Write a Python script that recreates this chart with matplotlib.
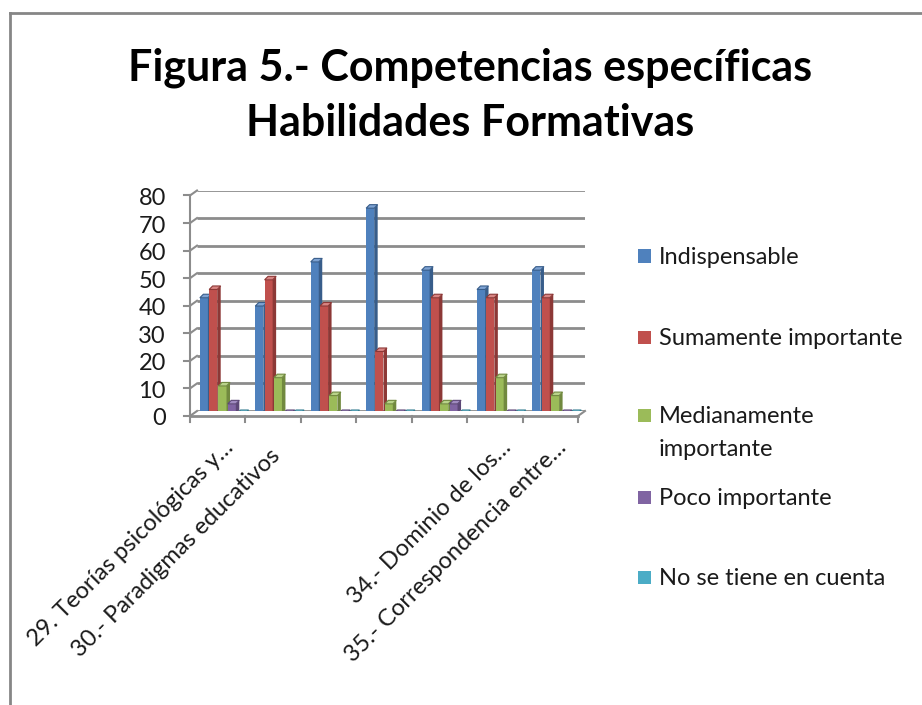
import matplotlib as mpl
mpl.use('Agg')
import numpy as np
import matplotlib.pyplot as plt
from matplotlib.patches import Polygon, Rectangle
from matplotlib.lines import Line2D

mpl.rcParams['font.family'] = ['Lato', 'DejaVu Sans']

# data
categories = ['29. Teorías psicológicas y…', '30.- Paradigmas educativos  ', '', '', '',
              '34.- Dominio de los…', '35.- Correspondencia entre…']
series = ['Indispensable', 'Sumamente importante', 'Medianamente\nimportante',
          'Poco importante', 'No se tiene en cuenta']
indispensable = [42, 39, 55, 74.5, 52, 45, 52]
sumamente = [45, 48.5, 39, 22.5, 42, 42, 42]
medianamente = [10, 13, 6.5, 3.5, 3.5, 13, 6.5]
poco = [3.5, 0, 0, 0, 3.5, 0, 0]
no_cuenta = [0, 0, 0, 0, 0, 0, 0]
values = [indispensable, sumamente, medianamente, poco, no_cuenta]
yticks = [0, 10, 20, 30, 40, 50, 60, 70, 80]

front = ['#4F81BD', '#C0504D', '#9BBB59', '#8064A2', '#4BACC6']
side = ['#385D8A', '#8C3836', '#71893F', '#5C4776', '#357D91']
top = ['#7EA3D3', '#D98583', '#B9D38A', '#A08BC0', '#7CC9DD']
txt = '#1a1a1a'
grid_c = '#8C8C8C'

W, H = 922, 705
fig = plt.figure(figsize=(W / 100, H / 100), dpi=100)

def fx(px):
    return px / W

def fy(py):
    return 1 - py / H

# outer chart frame (only left and top visible)
fig.add_artist(Line2D([fx(10), fx(10)], [fy(13), 0], color='#868686', lw=2))
fig.add_artist(Line2D([fx(10), 1], [fy(13), fy(13)], color='#868686', lw=2))

fig.text(fx(470), fy(68), 'Figura 5.- Competencias específicas', ha='center', va='center',
         fontsize=31, fontweight='bold', color='black')
fig.text(fx(470), fy(123), 'Habilidades Formativas', ha='center', va='center',
         fontsize=31, fontweight='bold', color='black')

# back wall of the plot area
left, right, bot, tp = 197, 585, 411, 190.5
ax = fig.add_axes([fx(left), fy(bot), fx(right - left), fy(tp) - fy(bot)])
ax.set_xlim(-0.5, 6.5)
ax.set_ylim(0, 80)
for s in ax.spines.values():
    s.set_visible(False)
ax.set_xticks([])
ax.set_yticks([])
ax.patch.set_alpha(0)

ux = (right - left) / 7.0   # px per category
uy = (bot - tp) / 80.0      # px per unit
dxp, dyp = -7, -5           # front axis offset in px
y0 = dyp / uy
x0 = -0.5 + dxp / ux

for t in yticks:
    ax.plot([-0.5, 6.5], [t, t], color=grid_c, lw=2, zorder=1, solid_capstyle='butt')
    ax.plot([x0, -0.5], [t + y0, t], color=grid_c, lw=1.5, zorder=1, clip_on=False)
    ax.plot([x0 - 6 / ux, x0], [t + y0, t + y0], color=grid_c, lw=1.5, zorder=1, clip_on=False)
    ax.text(x0 - 24 / ux, t + y0 - 3 / uy, str(t), ha='right', va='center',
            fontsize=17, color=txt)

# front y axis and floor
ax.plot([x0, x0], [y0, 80 + y0], color=grid_c, lw=1.5, zorder=1, clip_on=False)
ax.plot([x0, 6.5 + dxp / ux], [y0, y0], color=grid_c, lw=2, zorder=1, clip_on=False)
ax.plot([6.5 + dxp / ux, 6.5], [y0, 0], color=grid_c, lw=1.5, zorder=1, clip_on=False)
for k in range(8):
    xk = -0.5 + k + dxp / ux
    ax.plot([xk, xk], [y0, y0 - 6 / uy], color=grid_c, lw=1.5, clip_on=False)

# 3D-ish columns
pitch = 0.168
bw = 0.145
ddx = 3.5 / ux
ddy = 3.5 / uy
base = -2.5 / uy
for si, vals in enumerate(values):
    for ci, v in enumerate(vals):
        xl = ci + (si - 2) * pitch - bw / 2 - 0.04
        xr = xl + bw
        yt = v + base
        ax.add_patch(Rectangle((xl, base), bw, v, facecolor=front[si], edgecolor='none', zorder=3))
        ax.add_patch(Polygon([(xr, base), (xr, yt), (xr + ddx, yt + ddy), (xr + ddx, base + ddy)],
                             closed=True, facecolor=side[si], edgecolor='none', zorder=3))
        ax.add_patch(Polygon([(xl, yt), (xr, yt), (xr + ddx, yt + ddy), (xl + ddx, yt + ddy)],
                             closed=True, facecolor=top[si], edgecolor=side[si], lw=0.8, zorder=3))

# category labels (baseline end sits just right of the category centre)
for ci, lab in enumerate(categories):
    if lab:
        ax.text(ci + (17 + dxp) / ux, -(449 - bot) / uy, lab, rotation=45, ha='right',
                va='baseline', rotation_mode='anchor', fontsize=17, color=txt, clip_on=False)

# legend
leg_c = [256, 337, 415, 497, 577]
for si, lab in enumerate(series):
    fig.add_artist(Rectangle((fx(638), fy(leg_c[si] + 6.5)), fx(13), fy(0) - fy(13),
                             facecolor=front[si], edgecolor='none'))
    fig.text(fx(659), fy(leg_c[si] - 9), lab, ha='left', va='top', fontsize=17,
             color=txt, linespacing=1.7)

fig.savefig('out.png', dpi=100)
